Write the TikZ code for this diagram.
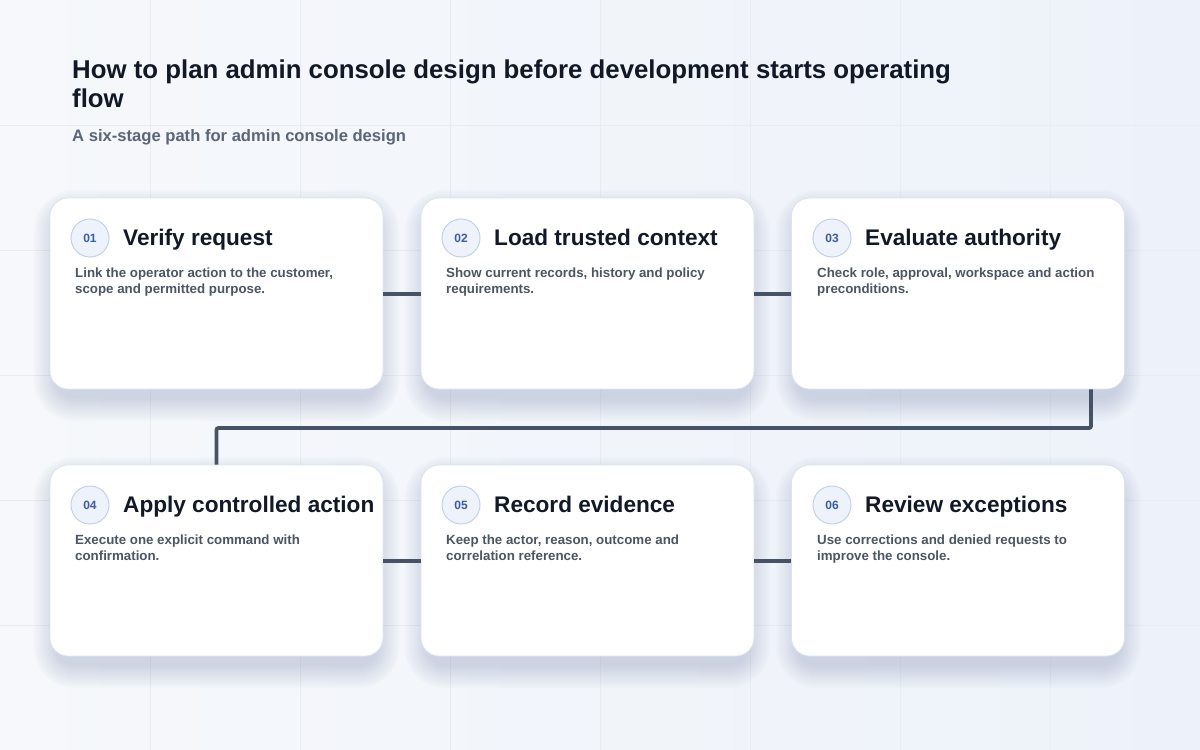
\documentclass[tikz,border=0pt]{standalone}
\usepackage{fontspec}
\setmainfont{Liberation Sans}
\definecolor{bgA}{HTML}{F6F8FB}
\definecolor{bgB}{HTML}{EDF2FA}
\definecolor{gridc}{HTML}{E8ECF3}
\definecolor{cardborder}{HTML}{DCE3EE}
\definecolor{titlec}{HTML}{111827}
\definecolor{subc}{HTML}{5B6577}
\definecolor{descc}{HTML}{4B5563}
\definecolor{numc}{HTML}{3A5BA8}
\definecolor{numfill}{HTML}{EEF3FB}
\definecolor{numborder}{HTML}{C3D1E8}
\definecolor{linkc}{HTML}{465366}
\definecolor{shadowc}{HTML}{7F8FB0}
\tikzset{
  card/.style={draw=cardborder, line width=0.8pt, fill=white, rounded corners=18pt,
    minimum width=333pt, minimum height=191pt, inner sep=0pt},
  numdot/.style={circle, draw=numborder, line width=1pt, fill=numfill, minimum size=38pt, inner sep=0pt,
    font=\fontsize{12}{14}\selectfont\bfseries, text=numc},
  cardtitle/.style={anchor=base west, inner sep=0pt, font=\fontsize{22.6}{26}\selectfont\bfseries, text=titlec},
  carddesc/.style={anchor=north west, inner sep=0pt, align=left, font=\fontsize{13.3}{15.5}\selectfont\bfseries, text=descc},
  link/.style={draw=linkc, line width=3.8pt},
  softshade/.style={fill=shadowc, fill opacity=0.028},
}
\newcommand{\cardshade}[2]{%
  \foreach \s in {0,2,...,22} {
    \fill[softshade, rounded corners=18pt+\s*1pt] (#1+6-\s,#2+14-\s) rectangle (#1+327+\s,#2+191+10+\s);
  }%
}
\begin{document}
\begin{tikzpicture}[x=1pt,y=-1pt]
\useasboundingbox (0,0) rectangle (1200,750);
\shade[left color=bgA, right color=bgB] (0,0) rectangle (1200,750);
\foreach \gx in {150,300,...,1050} \draw[gridc, line width=0.6pt] (\gx,0) -- (\gx,750);
\foreach \gy in {125,250,...,625} \draw[gridc, line width=0.6pt] (0,\gy) -- (1200,\gy);

\node[anchor=base west, inner sep=0pt, font=\fontsize{25.8}{29}\selectfont\bfseries, text=titlec] (title) at (72,78) {How to plan admin console design before development starts operating};
\node[anchor=base west, inner sep=0pt, font=\fontsize{25.8}{29}\selectfont\bfseries, text=titlec] (title2) at (72,107) {flow};
\node[anchor=base west, inner sep=0pt, font=\fontsize{16.6}{19}\selectfont\bfseries, text=subc] (subtitle) at (72,141) {A six-stage path for admin console design};

% shadows
\cardshade{50}{198}
\cardshade{421}{198}
\cardshade{792}{198}
\cardshade{50}{465}
\cardshade{421}{465}
\cardshade{792}{465}

% cards
\node[card] (c1) at (216.5,293.5) {};
\node[card] (c2) at (587.5,293.5) {};
\node[card] (c3) at (958,293.5) {};
\node[card] (c4) at (216.5,560.5) {};
\node[card] (c5) at (587.5,560.5) {};
\node[card] (c6) at (958,560.5) {};

% connectors
\draw[link] (c1.east |- 0,294) -- (c2.west |- 0,294);
\draw[link] (c2.east |- 0,294) -- (c3.west |- 0,294);
\coordinate (k1) at (1091,428);
\coordinate (k2) at (216.5,428);
\draw[link, rounded corners=2pt] (c3.south -| k1) -- (k1) -- (k2) -- (c4.north);
\draw[link] (c4.east |- 0,561) -- (c5.west |- 0,561);
\draw[link] (c5.east |- 0,561) -- (c6.west |- 0,561);

% card contents
\foreach \n/\cx/\cy/\ttl/\dsc in {
  1/50/198/{Verify request}/{Link the operator action to the customer,\\scope and permitted purpose.},
  2/421/198/{Load trusted context}/{Show current records, history and policy\\requirements.},
  3/792/198/{Evaluate authority}/{Check role, approval, workspace and action\\preconditions.},
  4/50/465/{Apply controlled action}/{Execute one explicit command with\\confirmation.},
  5/421/465/{Record evidence}/{Keep the actor, reason, outcome and\\correlation reference.},
  6/792/465/{Review exceptions}/{Use corrections and denied requests to\\improve the console.}}
{
  \node[numdot] (n\n) at (\cx+40,\cy+40) {0\n};
  \node[cardtitle] (t\n) at (\cx+73,\cy+47) {\ttl};
  \node[carddesc] (d\n) at (\cx+25,\cy+70) {\dsc};
}
\end{tikzpicture}
\end{document}
